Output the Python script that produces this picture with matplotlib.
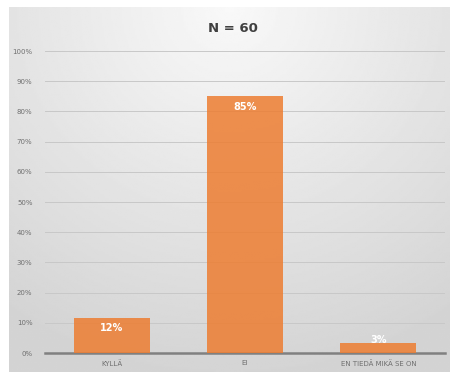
import numpy as np
import matplotlib.pyplot as plt
from matplotlib.ticker import MultipleLocator, PercentFormatter

categories = ["KYLLÄ", "EI", "EN TIEDÄ MIKÄ SE ON"]
shares = [11.67, 85.0, 3.33]
bar_labels = ["12%", "85%", "3%"]
title = "N = 60"

fig = plt.figure(figsize=(4.5, 3.72), dpi=100)
fig.patch.set_facecolor("white")

# gray chart panel, light at the top centre and darker towards the edges
bg = fig.add_axes([9 / 450, 0, 441 / 450, 1 - 7 / 372])
bg.set_axis_off()
yy, xx = np.mgrid[0:1:200j, 0:1:240j]
r = np.sqrt(((xx - 0.5) / 0.9) ** 2 + (yy / 1.05) ** 2)
shade = np.clip(0.975 - 0.15 * r, 0.83, 0.975)
bg.imshow(shade, cmap="gray", vmin=0, vmax=1, aspect="auto",
          extent=[0, 1, 0, 1], origin="upper")

ax = fig.add_axes([45 / 450, 19 / 372, 400 / 450, 302 / 372])
ax.patch.set_alpha(0)

x = np.arange(len(categories))
bars = ax.bar(x, shares, width=0.57, color="#ed7d31", alpha=0.85, zorder=3)
for b, lab in zip(bars, bar_labels):
    h = b.get_height()
    ax.text(b.get_x() + b.get_width() / 2, max(h - 3.5, 4.3), lab,
            ha="center", va="center", color="white", fontsize=7,
            fontweight="bold", zorder=4)

ax.set_xlim(-0.5, 2.5)
ax.set_ylim(0, 100)
ax.yaxis.set_major_locator(MultipleLocator(10))
ax.yaxis.set_major_formatter(PercentFormatter(decimals=0))
ax.grid(axis="y", color="#c8c8c8", linewidth=0.7, zorder=0)
ax.set_xticks(x)
ax.set_xticklabels(categories)
ax.tick_params(axis="both", length=0, labelsize=5, labelcolor="#707070")
ax.tick_params(axis="x", pad=5)
ax.tick_params(axis="y", pad=9)
for side in ["top", "right", "left"]:
    ax.spines[side].set_visible(False)
ax.spines["bottom"].set_color("#808080")
ax.spines["bottom"].set_linewidth(1.8)

fig.text(233 / 450, 1 - 29 / 372, title, ha="center", va="center",
         fontsize=9.5, fontweight="bold", color="#404040")

fig.savefig("out.png", dpi=100)
